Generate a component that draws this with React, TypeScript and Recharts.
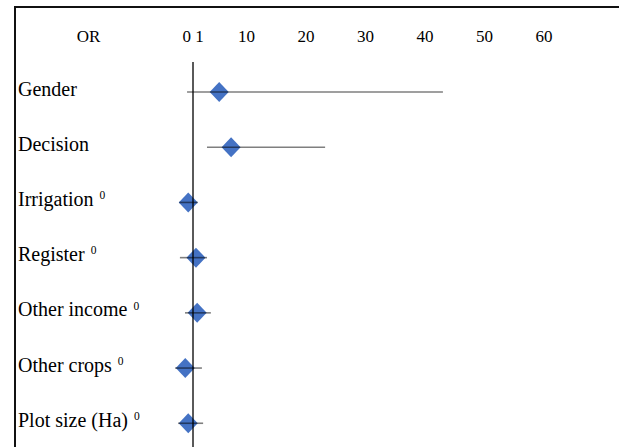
import React from "react";
import {
    ScatterChart,
    Scatter,
    XAxis,
    YAxis,
    ErrorBar,
    ReferenceLine,
} from "recharts";

// Forest plot: odds ratios with confidence intervals
const labels = ["Gender", "Decision", "Irrigation", "Register", "Other income", "Other crops", "Plot size (Ha)"];
const marked = [false, false, true, true, true, true, true];
const oddsRatio = [5.4, 7.4, 0.2, 1.5, 1.7, -0.3, 0.2];
const lower = [0.0, 3.35, -1.3, -1.2, -0.35, -2.0, -1.5];
const upper = [43.0, 23.2, 1.8, 3.35, 4.0, 2.5, 2.7];
const xTicks = [1, 10, 20, 30, 40, 50, 60];
const xTickText = ["0 1", "10", "20", "30", "40", "50", "60"];

const rows = labels.map((name, i) => ({
    name,
    idx: i,
    or: oddsRatio[i],
    err: [oddsRatio[i] - lower[i], upper[i] - oddsRatio[i]],
}));

const FONT = '"Liberation Serif", Tinos, "Times New Roman", Times, "DejaVu Serif", serif';
const txtStyle = { fontFamily: FONT };

const Diamond = (props: any) => {
    const { cx, cy } = props;
    if (cx == null || cy == null) return null;
    return (
        <polygon
            points={`${cx - 9.5},${cy} ${cx},${cy - 10} ${cx + 9.5},${cy} ${cx},${cy + 10}`}
            fill="#4472C4"
        />
    );
};

const XTick = (props: any) => {
    const { x, payload } = props;
    const i = xTicks.indexOf(payload.value);
    return (
        <text x={x} y={42} textAnchor="middle" style={txtStyle} fontSize={17} fill="#000">
            {xTickText[i]}
        </text>
    );
};

const YTick = (props: any) => {
    const { y, payload } = props;
    const i = payload.value;
    return (
        <text x={18} y={y + 3.5} textAnchor="start" style={txtStyle} fontSize={20} fill="#000">
            {labels[i]}
            {marked[i] && (
                <tspan dx={6} dy={-6.7} fontSize={11.5}>0</tspan>
            )}
        </text>
    );
};

export default function App() {
    return (
        <div style={{ position: "absolute", left: 0, top: 0, width: 619, height: 447, background: "#fff", fontFamily: FONT }}>
            <div style={{
                position: "absolute",
                left: 14,
                top: 6,
                right: 0,
                bottom: 0,
                borderTop: "2px solid #111",
                borderLeft: "2px solid #111",
            }} />
            <div style={{ position: "absolute", left: 0, top: 0 }}>
                <ScatterChart
                    width={619}
                    height={447}
                    margin={{ top: 22, right: 15.4, left: 19.2, bottom: 0 }}
                    style={{ fontFamily: FONT }}
                >
                    <XAxis
                        type="number"
                        dataKey="or"
                        orientation="top"
                        height={40}
                        domain={[-3, 70]}
                        ticks={xTicks}
                        interval={0}
                        allowDataOverflow
                        axisLine={false}
                        tickLine={false}
                        tick={<XTick />}
                        label={{
                            content: () => (
                                <text x={88.5} y={42} textAnchor="middle" style={txtStyle} fontSize={17} fill="#000">
                                    OR
                                </text>
                            ),
                        }}
                    />
                    <YAxis
                        type="number"
                        dataKey="idx"
                        width={150}
                        domain={[-0.544, 6.43]}
                        reversed
                        ticks={[0, 1, 2, 3, 4, 5, 6]}
                        interval={0}
                        allowDataOverflow
                        axisLine={false}
                        tickLine={false}
                        tick={<YTick />}
                    />
                    <Scatter data={rows} shape={<Diamond />} isAnimationActive={false} zIndex={100} />
                    <ReferenceLine x={1} stroke="#000" strokeWidth={1.3} zIndex={900} />
                    <Scatter data={rows} shape={() => null} isAnimationActive={false} zIndex={950}>
                        <ErrorBar
                            dataKey="err"
                            direction="x"
                            width={0}
                            stroke="rgba(0,0,0,0.5)"
                            strokeWidth={1.6}
                            isAnimationActive={false}
                            zIndex={1000}
                        />
                    </Scatter>
                </ScatterChart>
            </div>
        </div>
    );
}
